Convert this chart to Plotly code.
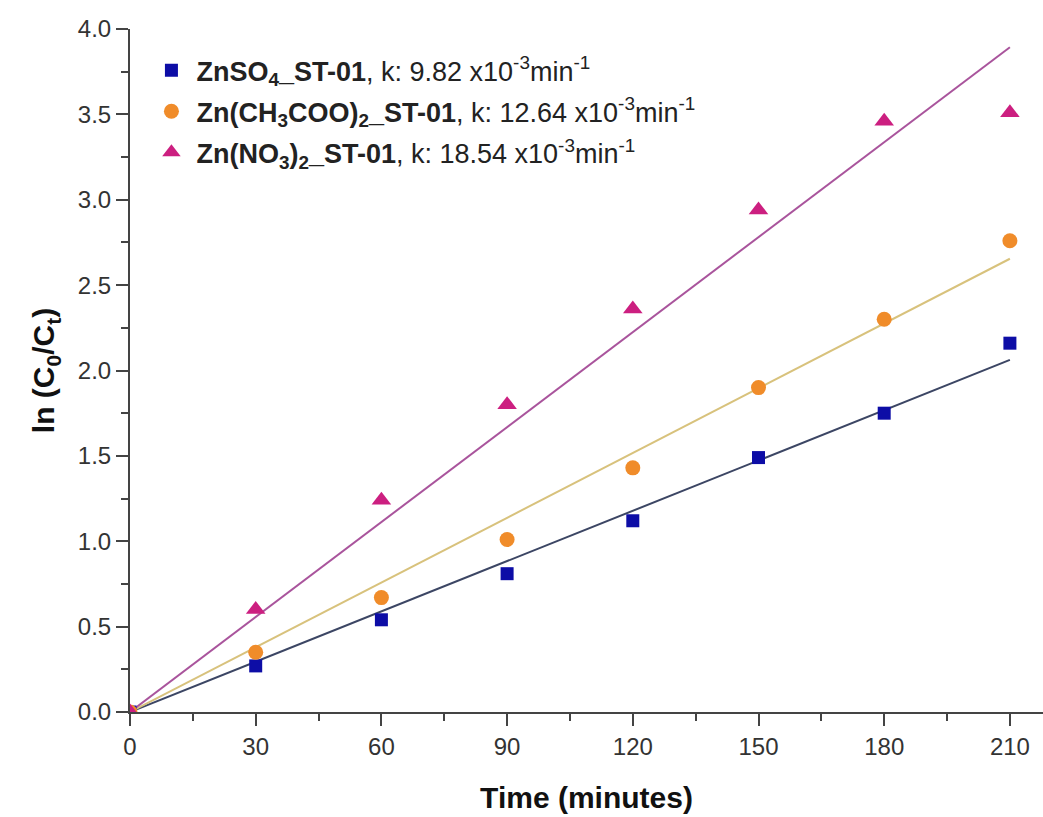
import plotly.graph_objects as go

# Irradiation time (minutes)
time_min = [0, 30, 60, 90, 120, 150, 180, 210]

# ln(C0/Ct) measured for each precursor
znso4 = [0.0, 0.27, 0.54, 0.81, 1.12, 1.49, 1.75, 2.16]
zn_acetate = [0.0, 0.35, 0.67, 1.01, 1.43, 1.90, 2.30, 2.76]
zn_nitrate = [0.0, 0.60, 1.24, 1.80, 2.36, 2.94, 3.46, 3.51]

# Pseudo-first-order rate constants (x10^-3 min^-1)
k_values = [9.82, 12.64, 18.54]

series_names = [
    "<b>ZnSO<sub>4</sub>_ST-01</b>, k: 9.82 x10<sup>-3</sup>min<sup>-1</sup>",
    "<b>Zn(CH<sub>3</sub>COO)<sub>2</sub>_ST-01</b>, k: 12.64 x10<sup>-3</sup>min<sup>-1</sup>",
    "<b>Zn(NO<sub>3</sub>)<sub>2</sub>_ST-01</b>, k: 18.54 x10<sup>-3</sup>min<sup>-1</sup>",
]

series_data = [znso4, zn_acetate, zn_nitrate]
marker_symbols = ["square", "circle", "triangle-up"]
marker_sizes = [13, 15, 17]
marker_colors = ["#0d0da6", "#f08c2a", "#cc1f80"]
fit_colors = ["#3c4664", "#d8c27c", "#a9549c"]

fig = go.Figure()

# Linear fits through the origin: ln(C0/Ct) = k * t
fit_t = [0, 210]
for k, col in zip(k_values, fit_colors):
    fig.add_trace(go.Scatter(
        x=fit_t, y=[k * 1e-3 * t for t in fit_t],
        mode="lines", line=dict(color=col, width=2),
        showlegend=False, hoverinfo="skip",
    ))

for i, (name, ys, sym, size, col) in enumerate(zip(series_names, series_data, marker_symbols,
                                                   marker_sizes, marker_colors)):
    fig.add_trace(go.Scatter(
        x=time_min, y=ys, mode="markers", name=name, legendgroup=f"g{i}",
        marker=dict(symbol=sym, size=size, color=col, line=dict(width=0)),
    ))

axis_color = "#444444"
tick_font = dict(family="Liberation Sans, Arial, sans-serif", size=24, color="#333333")

fig.update_layout(
    width=1043, height=817,
    margin=dict(l=130, r=0, t=29, b=105),
    paper_bgcolor="white", plot_bgcolor="white",
    font=dict(family="Liberation Sans, Arial, sans-serif", color="#222222"),
    legend=dict(
        x=0.018, y=0.975, xanchor="left", yanchor="top",
        font=dict(size=27, color="#222222"),
        bgcolor="rgba(0,0,0,0)", tracegroupgap=3, itemwidth=40,
    ),
    xaxis=dict(
        range=[0, 217.9], tickvals=[0, 30, 60, 90, 120, 150, 180, 210],
        showgrid=False, zeroline=False,
        showline=True, linecolor=axis_color, linewidth=2,
        ticks="outside", ticklen=12, tickwidth=2, tickcolor=axis_color,
        minor=dict(ticks="outside", ticklen=7, tickwidth=2, tickcolor=axis_color, dtick=15),
        tickfont=tick_font,
        title=dict(text="<b>Time (minutes)</b>", font=dict(size=30, color="#111111"), standoff=28),
    ),
    yaxis=dict(
        range=[0, 4.0], dtick=0.5, tickformat=".1f",
        showgrid=False, zeroline=False,
        showline=True, linecolor=axis_color, linewidth=2,
        ticks="outside", ticklen=12, tickwidth=2, tickcolor=axis_color,
        minor=dict(ticks="outside", ticklen=7, tickwidth=2, tickcolor=axis_color, dtick=0.25),
        tickfont=tick_font,
        title=dict(text="<b>ln (C<sub>0</sub>/C<sub>t</sub>)</b>", font=dict(size=30, color="#111111"), standoff=14),
    ),
)

fig.write_html("out.html")
